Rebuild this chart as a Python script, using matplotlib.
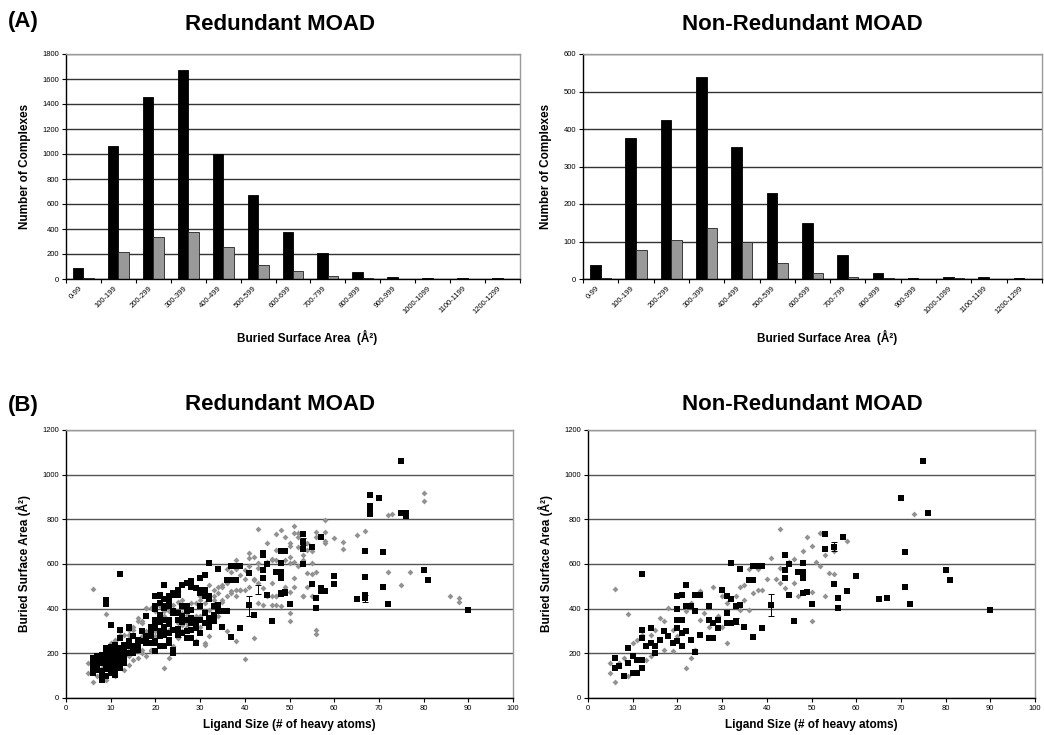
import numpy as np
import matplotlib
matplotlib.use("Agg")
import matplotlib.pyplot as plt

plt.rcParams['font.family'] = ['Liberation Sans', 'DejaVu Sans']

W, H = 1044, 735

# histogram of buried surface area
bins = ['0-99', '100-199', '200-299', '300-399', '400-499', '500-599', '600-699',
        '700-799', '800-899', '900-999', '1000-1099', '1100-1199', '1200-1299']
red_black = [90, 1065, 1455, 1670, 1000, 670, 375, 205, 55, 15, 10, 10, 5]
red_gray = [5, 220, 335, 380, 260, 115, 65, 25, 10, 2, 1, 1, 0]
nr_black = [38, 375, 423, 540, 352, 230, 150, 64, 15, 4, 6, 6, 2]
nr_gray = [3, 77, 105, 135, 98, 44, 17, 6, 3, 0, 2, 0, 0]

# scatter: ligand size vs buried surface area (non-redundant set)
nr_sq_x = [75, 70, 76, 71, 71, 72, 80, 81, 90, 65, 67, 60, 58, 55, 56, 56, 50, 49, 48, 48,
           48, 48, 47, 45, 46, 44, 44, 44, 45, 41, 53, 53, 55, 57, 39, 37, 35, 32, 34, 37,
           38, 39, 36, 37, 30, 31, 32, 31, 32, 31, 33, 34, 33, 29, 29, 27, 27, 28, 27, 28,
           25, 24, 25, 24, 22, 21, 20, 20, 21, 22, 23, 20, 20, 21, 22, 21, 19, 20, 23, 24,
           18, 17, 16, 15, 14, 14, 12, 12, 13, 15, 12, 12, 12, 11, 10, 10, 9, 9, 8, 7,
           6, 6, 11]
nr_sq_y = [1062, 897, 830, 653, 496, 419, 575, 528, 395, 443, 450, 547, 479, 510, 447, 405, 419, 473, 470, 537,
           604, 563, 563, 462, 344, 641, 574, 537, 600, 416, 736, 666, 678, 721, 313, 271, 320, 604, 578, 589,
           589, 589, 528, 528, 484, 455, 443, 380, 335, 335, 410, 417, 343, 350, 313, 410, 350, 335, 268, 268,
           462, 462, 283, 388, 507, 462, 455, 398, 350, 410, 410, 350, 313, 291, 298, 231, 246, 253, 261, 204,
           276, 298, 261, 231, 246, 313, 305, 268, 231, 201, 134, 171, 555, 112, 112, 186, 224, 156, 97, 142,
           179, 134, 171]
nr_dm_x = [73, 43, 49, 52, 58, 55, 53, 50, 48, 51, 52, 54, 46, 45, 43, 41, 40, 38, 36, 35,
           34, 38, 42, 43, 46, 44, 47, 53, 50, 55, 50, 31, 28, 25, 30, 33, 34, 36, 35, 23,
           22, 18, 16, 17, 15, 14, 12, 11, 10, 8, 7, 6, 9, 5, 5, 6, 9, 13, 14, 17,
           19, 22, 23, 24, 25, 27, 30, 19, 20, 26, 29, 31, 37, 39]
nr_dm_y = [823, 757, 720, 738, 704, 656, 641, 681, 656, 611, 589, 559, 622, 611, 581, 629, 532, 577, 577, 507,
           499, 484, 532, 514, 514, 492, 455, 458, 343, 555, 473, 246, 499, 477, 455, 455, 395, 395, 440, 425,
           388, 405, 358, 343, 305, 283, 283, 261, 246, 179, 156, 487, 376, 156, 112, 70, 97, 171, 186, 216,
           209, 134, 179, 216, 350, 320, 320, 305, 276, 380, 365, 425, 469, 484]

# extra points that only appear in the redundant set
red_sq_x_extra = [68, 68, 68, 68, 75, 76, 67, 67, 67, 67, 60, 57, 57, 53, 53, 49, 48, 49, 48, 44,
                  42, 41, 38, 38, 36, 35, 30, 31, 27, 26, 28, 25, 24, 23, 22, 21, 20, 21, 20, 19,
                  18, 17, 16, 15, 14, 10, 9, 9, 14, 15, 13, 12, 11, 10, 9, 8, 7, 6, 11, 10,
                  9, 8, 12, 13, 11, 10, 9, 11, 12, 7, 20, 20, 22, 24, 24, 23, 21, 22, 23, 24,
                  24, 25, 26, 26, 27, 29, 28, 28, 30, 31, 32, 30, 31, 32, 31, 32, 30, 29, 28, 29,
                  19, 18, 17, 16, 14, 13, 11, 11, 8, 21, 22, 23,
                  6, 7, 7, 8, 8, 9, 9, 10, 10, 10, 11, 11, 12, 12, 13, 13, 14, 15, 16, 17,
                  18, 19, 20, 21, 21, 22, 22, 23, 23, 25, 25, 26, 26, 27, 27, 28, 29, 30, 33, 34]
red_sq_y_extra = [909, 858, 838, 822, 830, 817, 659, 544, 462, 450, 511, 492, 477, 698, 599, 470, 465, 659, 659, 651,
                  370, 559, 529, 529, 390, 388, 537, 552, 514, 507, 522, 484, 469, 455, 443, 455, 455, 425, 410, 320,
                  365, 298, 261, 276, 316, 325, 440, 422, 231, 216, 201, 224, 238, 209, 179, 156, 142, 112, 104, 134,
                  97, 82, 164, 156, 171, 171, 216, 194, 194, 186, 246, 209, 231, 216, 201, 246, 276, 320, 350, 305,
                  380, 350, 410, 365, 350, 246, 305, 395, 469, 484, 455, 410, 380, 358, 335, 317, 291, 313, 499, 492,
                  276, 246, 253, 216, 253, 238, 216, 149, 194, 373, 402, 432,
                  160, 125, 170, 120, 175, 130, 195, 145, 200, 230, 125, 185, 140, 205, 175, 215, 200, 225, 240, 255,
                  260, 290, 330, 300, 340, 280, 350, 290, 330, 310, 380, 290, 340, 300, 390, 360, 330, 350, 370, 390]

red_dm_x_extra = [80, 80, 72, 67, 65, 77, 72, 75, 86, 88, 88, 60, 62, 62, 58, 58, 58, 56, 56, 51,
                  48, 51, 50, 50, 52, 53, 54, 54, 55, 56, 52, 47, 47, 45, 46, 47, 49, 50, 51, 51,
                  49, 47, 46, 45, 47, 46, 44, 43, 48, 50, 49, 55, 53, 56, 56, 54, 40, 42, 38, 36,
                  40, 41, 42, 41, 42, 41, 43, 40, 39, 38, 37, 36, 35, 34, 33, 32, 31, 30, 29, 28,
                  27, 26, 25, 24, 23, 22, 21, 20, 19, 18, 17, 16, 15, 14, 14, 13, 12, 11, 10, 7,
                  8, 9, 11, 13, 14, 15, 16, 17, 18, 19, 21, 24, 25, 26, 27, 28, 29, 31, 32, 30,
                  34, 35, 36, 37, 38, 39, 33, 32, 27, 26, 25, 23, 22, 20, 18, 17, 16, 15, 14, 13,
                  12, 11, 10, 9, 8, 7, 6]
red_dm_y_extra = [917, 880, 820, 749, 730, 566, 566, 507, 458, 447, 432, 716, 698, 668, 798, 745, 693, 723, 745, 771,
                  753, 738, 693, 633, 678, 618, 693, 663, 604, 566, 723, 735, 663, 693, 619, 619, 619, 604, 537, 499,
                  484, 455, 455, 455, 417, 417, 417, 425, 413, 380, 499, 455, 455, 305, 288, 499, 175, 268, 253, 298,
                  484, 499, 529, 589, 633, 648, 604, 574, 552, 618, 566, 514, 499, 469, 484, 507, 469, 440, 425, 425,
                  417, 440, 432, 417, 388, 365, 410, 388, 402, 402, 335, 343, 320, 305, 283, 283, 268, 253, 238, 97,
                  104, 82, 97, 127, 149, 171, 179, 201, 186, 216, 231, 231, 268, 298, 335, 305, 253, 238, 276, 365,
                  365, 432, 455, 477, 455, 484, 440, 395, 373, 328, 335, 305, 283, 298, 298, 276, 261, 238, 224, 216,
                  194, 179, 156, 142, 134, 156, 134]

# a few averaged points carry error bars
nr_err_x = [41, 55, 33]
nr_err_y = [416, 680, 345]
nr_err = [48, 20, 15]
red_err_x = [41, 67, 53, 43, 25]
red_err_y = [413, 445, 702, 485, 290]
red_err = [45, 15, 15, 20, 15]

red_sq_x = nr_sq_x + red_sq_x_extra
red_sq_y = nr_sq_y + red_sq_y_extra
red_dm_x = nr_dm_x + red_dm_x_extra
red_dm_y = nr_dm_y + red_dm_y_extra

fig = plt.figure(figsize=(W / 100, H / 100), dpi=100)


def px_axes(left, top, right, bottom):
    return fig.add_axes([left / W, 1 - bottom / H, (right - left) / W, (bottom - top) / H])


def style_frame(ax):
    ax.spines['top'].set_color('#9a9a9a')
    ax.spines['right'].set_color('#9a9a9a')
    ax.spines['left'].set_color('black')
    ax.spines['bottom'].set_color('black')
    for s in ax.spines.values():
        s.set_linewidth(1.0)
    ax.tick_params(axis='both', direction='out', length=3, width=0.8, labelsize=5.5, pad=2)
    ax.grid(axis='y', color='#333333', linewidth=1.0)
    ax.set_axisbelow(True)


def bar_panel(ax, black, gray, ymax, ystep):
    x = np.arange(len(bins))
    ax.bar(x - 0.15, black, width=0.3, color='black', edgecolor='black', linewidth=0.6)
    ax.bar(x + 0.15, gray, width=0.3, color='#999999', edgecolor='#222222', linewidth=0.6)
    ax.set_xlim(-0.5, len(bins) - 0.5)
    ax.set_ylim(0, ymax)
    ax.set_yticks(np.arange(0, ymax + 1, ystep))
    # ticks on the bin boundaries, labels in the middle (Excel style)
    ax.set_xticks(np.arange(-0.5, len(bins), 1.0))
    ax.set_xticklabels([])
    ax.set_xticks(x, minor=True)
    ax.set_xticklabels(bins, minor=True, rotation=45, ha='right', va='top', fontsize=5.5)
    ax.tick_params(axis='x', which='minor', length=0, pad=4)
    style_frame(ax)
    ax.set_ylabel('Number of Complexes', fontsize=8.5, fontweight='bold', labelpad=8)


def scatter_panel(ax, sx, sy, dx, dy, ex, ey, ee):
    ax.scatter(dx, dy, marker='D', s=9, color='#929292', linewidths=0, zorder=3)
    ax.scatter(sx, sy, marker='s', s=17, color='black', linewidths=0, zorder=4)
    ax.errorbar(ex, ey, yerr=ee, fmt='none', ecolor='black', elinewidth=0.7,
                capsize=2, capthick=0.7, zorder=5)
    ax.set_xlim(0, 100)
    ax.set_ylim(0, 1200)
    ax.set_xticks(np.arange(0, 101, 10))
    ax.set_yticks(np.arange(0, 1201, 200))
    style_frame(ax)
    ax.grid(axis='y', color='#555555', linewidth=1.0)
    ax.set_xlabel('Ligand Size (# of heavy atoms)', fontsize=8.5, fontweight='bold', labelpad=5)
    ax.set_ylabel('Buried Surface Area (Å²)', fontsize=8.5, fontweight='bold', labelpad=8)


# (A) histograms
ax1 = px_axes(66, 54, 520, 279)
bar_panel(ax1, red_black, red_gray, 1800, 200)
ax2 = px_axes(583, 54, 1042, 279)
bar_panel(ax2, nr_black, nr_gray, 600, 100)

# (B) scatter plots
ax3 = px_axes(66, 430, 513, 698)
scatter_panel(ax3, red_sq_x, red_sq_y, red_dm_x, red_dm_y, red_err_x, red_err_y, red_err)
ax4 = px_axes(588, 430, 1035, 698)
scatter_panel(ax4, nr_sq_x, nr_sq_y, nr_dm_x, nr_dm_y, nr_err_x, nr_err_y, nr_err)

# titles and panel letters
fig.text(280 / W, 1 - 25 / H, 'Redundant MOAD', ha='center', va='center', fontsize=16, fontweight='bold')
fig.text(802 / W, 1 - 25 / H, 'Non-Redundant MOAD', ha='center', va='center', fontsize=16, fontweight='bold')
fig.text(280 / W, 1 - 405 / H, 'Redundant MOAD', ha='center', va='center', fontsize=16, fontweight='bold')
fig.text(802 / W, 1 - 405 / H, 'Non-Redundant MOAD', ha='center', va='center', fontsize=16, fontweight='bold')
fig.text(8 / W, 1 - 22 / H, '(A)', ha='left', va='center', fontsize=16, fontweight='bold')
fig.text(8 / W, 1 - 406 / H, '(B)', ha='left', va='center', fontsize=16, fontweight='bold')

fig.text(307 / W, 1 - 337 / H, 'Buried Surface Area  (Å²)', ha='center', va='center', fontsize=8.5, fontweight='bold')
fig.text(827 / W, 1 - 337 / H, 'Buried Surface Area  (Å²)', ha='center', va='center', fontsize=8.5, fontweight='bold')

fig.savefig('out.png', dpi=100)
